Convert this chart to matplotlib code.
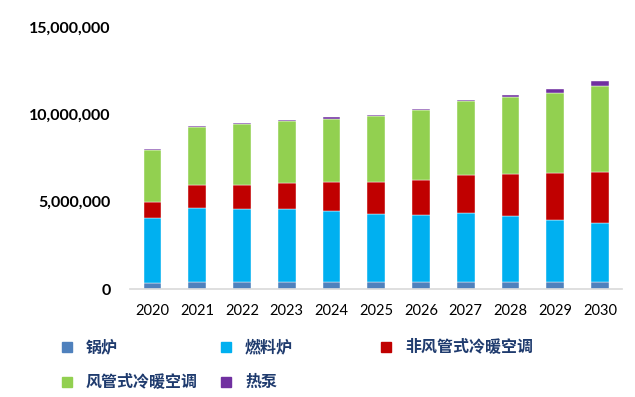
import numpy as np
import matplotlib
matplotlib.use("Agg")
import matplotlib.pyplot as plt
from matplotlib.patches import Rectangle
from matplotlib.ticker import FuncFormatter

years = ['2020', '2021', '2022', '2023', '2024', '2025',
         '2026', '2027', '2028', '2029', '2030']

# 各类设备数量（台）
boiler = [340000, 400000, 400000, 400000, 400000, 400000,
          400000, 400000, 400000, 400000, 400000]
furnace = [3720000, 4260000, 4180000, 4180000, 4080000, 3910000,
           3850000, 3970000, 3800000, 3570000, 3390000]
ductless = [940000, 1300000, 1380000, 1510000, 1630000, 1800000,
            2000000, 2180000, 2410000, 2680000, 2890000]
ducted = [2950000, 3310000, 3470000, 3510000, 3640000, 3780000,
          3980000, 4200000, 4380000, 4600000, 4930000]
heat_pump = [50000, 60000, 50000, 60000, 80000, 50000,
             70000, 50000, 100000, 190000, 270000]

names = ['锅炉', '燃料炉', '非风管式冷暖空调', '风管式冷暖空调', '热泵']
colors = ['#4f81bd', '#00b0f0', '#c00000', '#92d050', '#7030a0']
series = [boiler, furnace, ductless, ducted, heat_pump]

fig = plt.figure(figsize=(6.35, 3.97), dpi=100)
ax = fig.add_axes([0.205, 0.272, 0.775, 0.66])

x = np.arange(len(years))
bottom = np.zeros(len(years))
for vals, c in zip(series, colors):
    ax.bar(x, vals, 0.4, bottom=bottom, color=c, edgecolor='white', linewidth=0.3)
    bottom += np.array(vals)

ax.set_xlim(-0.5, len(years) - 0.5)
ax.set_ylim(0, 15000000)
ax.set_yticks([0, 5000000, 10000000, 15000000])
ax.yaxis.set_major_formatter(FuncFormatter(lambda v, p: f'{int(v):,}'))
ax.set_xticks(x)
ax.set_xticklabels(years)

for s in ['top', 'right', 'left']:
    ax.spines[s].set_visible(False)
ax.spines['bottom'].set_color('#d9d9d9')
ax.spines['bottom'].set_linewidth(1.2)
ax.tick_params(axis='both', length=0)
ax.tick_params(axis='y', pad=14)
ax.tick_params(axis='x', pad=11)
for lab in ax.get_yticklabels():
    lab.set_fontfamily('Lato')
    lab.set_fontweight('bold')
    lab.set_fontsize(11.5)
for lab in ax.get_xticklabels():
    lab.set_fontfamily('Lato')
    lab.set_fontsize(10.5)

# 图例，按行排列
col_x = [62, 221, 381]
row_y = [347, 382]
for i, (nm, c) in enumerate(zip(names, colors)):
    r, k = divmod(i, 3)
    px = col_x[k]
    py = row_y[r]
    fig.add_artist(Rectangle((px / 635, 1 - (py + 5) / 397), 10 / 635, 10 / 397,
                             transform=fig.transFigure, color=c))
    fig.text((px + 24) / 635, 1 - py / 397, nm, va='center', ha='left',
             fontsize=11.5, fontweight='bold', color='#1f3b6e',
             family=['Noto Sans CJK SC', 'DejaVu Sans'])

plt.savefig('out.png')
